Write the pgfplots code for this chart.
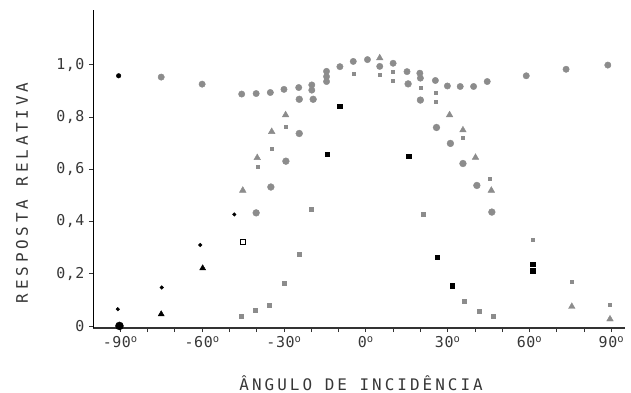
\documentclass[border=0pt]{standalone}
\usepackage{fontspec}
\setmainfont{DejaVu Sans Mono}
\newfontfamily\labfont{DejaVu Sans Mono}[LetterSpace=19]
\newfontfamily\ylabfont{DejaVu Sans Mono}[LetterSpace=24]
\newfontfamily\tickfont{DejaVu Sans Mono}[LetterSpace=4]
\usepackage{pgfplots}
\pgfplotsset{compat=1.18}
\definecolor{pg}{RGB}{140,140,140}
\definecolor{txt}{RGB}{55,55,55}
\begin{document}
\begin{tikzpicture}[x=1bp,y=1bp]
\begin{axis}[
  scale only axis, width=532bp, height=318bp,
  xmin=-100, xmax=95, ymin=-0.008, ymax=1.21,
  axis x line=bottom, axis y line=left,
  axis line style={-},
  x axis line style={line width=1.6bp, color=black!80},
  y axis line style={line width=0.9bp, color=black},
  xtick={-90,-60,-30,0,30,60,90},
  xticklabels={-90\textsuperscript{o},-60\textsuperscript{o},-30\textsuperscript{o},0\textsuperscript{o},30\textsuperscript{o},60\textsuperscript{o},90\textsuperscript{o}},
  minor xtick={-80,-70,-50,-40,-20,-10,10,20,40,50,70,80},
  ytick={0,0.2,0.4,0.6,0.8,1.0},
  yticklabels={0,{0,2},{0,4},{0,6},{0,8},{1,0}},
  tick align=outside,
  major tick length=4bp, minor tick length=4bp,
  tick style={color=black!80, line width=0.8bp},
  ticklabel style={font=\tickfont\fontsize{15}{15}\selectfont, text=txt},
  xticklabel style={yshift=-1bp},
  yticklabel style={xshift=-1bp},
  xlabel={ÂNGULO DE INCIDÊNCIA},
  ylabel={RESPOSTA RELATIVA},
  xlabel style={at={(axis description cs:0.504,-0.173)}, anchor=center, font=\labfont\fontsize{16}{16}\selectfont, text=txt},
  ylabel style={at={(axis description cs:-0.1335,0.425)}, anchor=center, rotate=0, font=\ylabfont\fontsize{16}{16}\selectfont, text=txt},
  clip=false,
]
% top flat series (gray circles)
\addplot[only marks, mark=*, mark size=3.2bp, color=pg] coordinates {
(-75,0.953) (-60,0.926) (-45.5,0.888) (-40.2,0.89) (-35,0.894) (-30,0.906)
(-24.6,0.913) (-19.8,0.923) (-19.8,0.903) (-14.4,0.975) (-14.4,0.955) (-14.4,0.936)
(-9.5,0.993) (-4.6,1.013) (0.6,1.02) (5.1,0.994) (10,1.006) (15.1,0.974) (19.8,0.968)
(20,0.949) (25.5,0.94) (29.9,0.919) (34.6,0.917) (39.5,0.917) (44.5,0.936)
(58.8,0.958) (73.4,0.983) (88.7,0.999)
};
% triangles gray
\addplot[only marks, mark=triangle*, mark size=3.8bp, color=pg] coordinates {
(-45.1,0.519) (-39.8,0.644) (-34.5,0.744) (-29.4,0.808) (5.1,1.026)
(30.7,0.808) (35.6,0.75) (40.2,0.645) (46,0.519) (75.5,0.074) (89.5,0.026)
};
% small gray dots
\addplot[only marks, mark=square*, mark size=1.5bp, color=pg] coordinates {
(-39.8,0.609) (-34.5,0.677) (-29.4,0.763) (-4.6,0.965) (5.1,0.962) (10,0.974) (10,0.94)
(20,0.914) (25.5,0.895) (25.5,0.859) (35.6,0.722) (45.4,0.564) (61.2,0.329) (75.5,0.169) (89.3,0.08)
};
% larger gray circles (narrower curve)
\addplot[only marks, mark=*, mark size=3.4bp, color=pg] coordinates {
(-40.2,0.433) (-34.8,0.532) (-29.3,0.631) (-24.4,0.737) (-24.4,0.868) (-19.3,0.868)
(15.5,0.927) (20,0.865) (25.9,0.76) (31,0.699) (35.6,0.622) (40.7,0.538) (46.2,0.436)
};
% small gray squares (narrowest curve)
\addplot[only marks, mark=square*, mark size=2bp, color=pg] coordinates {
(-45.7,0.038) (-40.7,0.062) (-35.5,0.081) (-30.1,0.164) (-24.6,0.276) (-20.1,0.446)
(21,0.426) (36.2,0.096) (41.5,0.055) (46.6,0.038)
};
% black points
\addplot[only marks, mark=square*, mark size=2.3bp, color=black] coordinates {
(-14.1,0.658) (-9.5,0.842) (15.7,0.65) (26.1,0.263) (31.6,0.154) (61.2,0.237) (61.2,0.212)
};
\addplot[only marks, mark=*, mark size=1.8bp, color=black] coordinates {
(-90.9,0.064) (-74.8,0.147) (-60.7,0.31) (-48.2,0.427)
};
\addplot[only marks, mark=triangle*, mark size=3.5bp, color=black] coordinates {
(-75,0.045) (-59.8,0.221)
};
\addplot[only marks, mark=square, mark size=2.5bp, line width=1bp, color=black] coordinates {
(-44.9,0.321)
};
\addplot[only marks, mark=*, mark size=2.3bp, color=black] coordinates {
(-90.6,0.958)
};
\addplot[only marks, mark=*, mark size=4bp, color=black] coordinates {
(-90.3,0.0)
};
\end{axis}
\pgfresetboundingbox
\path (current axis.south west) ++(-93bp,-65bp) rectangle ++(631bp,393bp);
\end{tikzpicture}
\end{document}
